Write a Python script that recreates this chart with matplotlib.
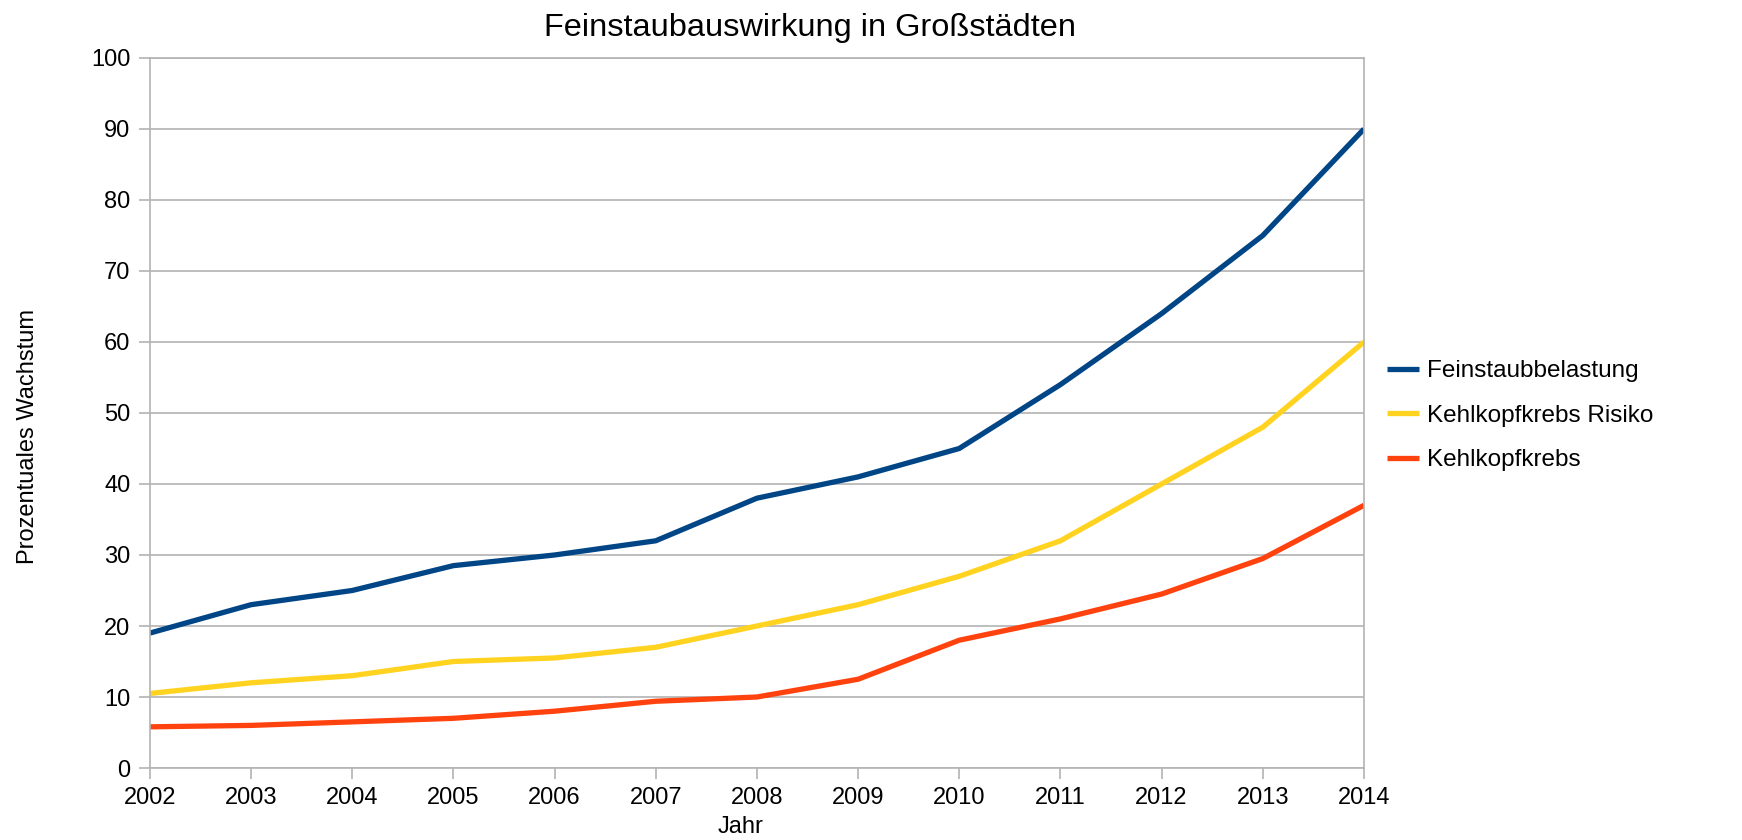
import numpy as np
import matplotlib.pyplot as plt

plt.rcParams['font.family'] = ['Liberation Sans', 'DejaVu Sans']

# data
years = [2002, 2003, 2004, 2005, 2006, 2007, 2008, 2009, 2010, 2011, 2012, 2013, 2014]
feinstaub = [19, 23, 25, 28.5, 30, 32, 38, 41, 45, 54, 64, 75, 90]
risiko = [10.5, 12, 13, 15, 15.5, 17, 20, 23, 27, 32, 40, 48, 60]
krebs = [5.8, 6, 6.5, 7, 8, 9.4, 10, 12.5, 18, 21, 24.5, 29.5, 37]
labels = ["Feinstaubbelastung", "Kehlkopfkrebs Risiko", "Kehlkopfkrebs"]
colors = ["#004586", "#ffd320", "#ff420e"]

grid_c = "#b3b3b3"
fsize = 17
lw_plot = 3.8

fig = plt.figure(figsize=(17.42, 8.4), dpi=100)
ax = fig.add_axes([0.086, 0.0857, 0.697, 0.8453])

for vals, lab, col in zip([feinstaub, risiko, krebs], labels, colors):
    ax.plot(years, vals, color=col, linewidth=lw_plot, label=lab,
            solid_joinstyle='miter', solid_capstyle='butt')

ax.set_xlim(years[0], years[-1])
ax.set_ylim(0, 100)
ax.set_xticks(years)
ax.set_yticks(np.arange(0, 101, 10))
ax.yaxis.grid(True, color=grid_c, linewidth=1.2)
ax.set_axisbelow(True)
for sp in ax.spines.values():
    sp.set_color(grid_c)
    sp.set_linewidth(1.2)
ax.tick_params(axis='both', labelsize=fsize, color=grid_c, length=8, width=1.2, pad=6)

# title sits right of the plot centre in the original
fig.text(0.465, 0.967, "Feinstaubauswirkung in Großstädten", fontsize=23.4,
         ha='center', va='center')
fig.text(0.016, 0.48, "Prozentuales Wachstum", rotation=90, fontsize=fsize,
         ha='center', va='center')
fig.text(0.425, 0.016, "Jahr", fontsize=fsize, ha='center', va='center')

fig.legend(loc='center left', bbox_to_anchor=(0.7837, 0.505), frameon=False,
           fontsize=17.5, handlelength=1.3, handletextpad=0.35, labelspacing=0.92)

plt.savefig("out.png", dpi=100)
